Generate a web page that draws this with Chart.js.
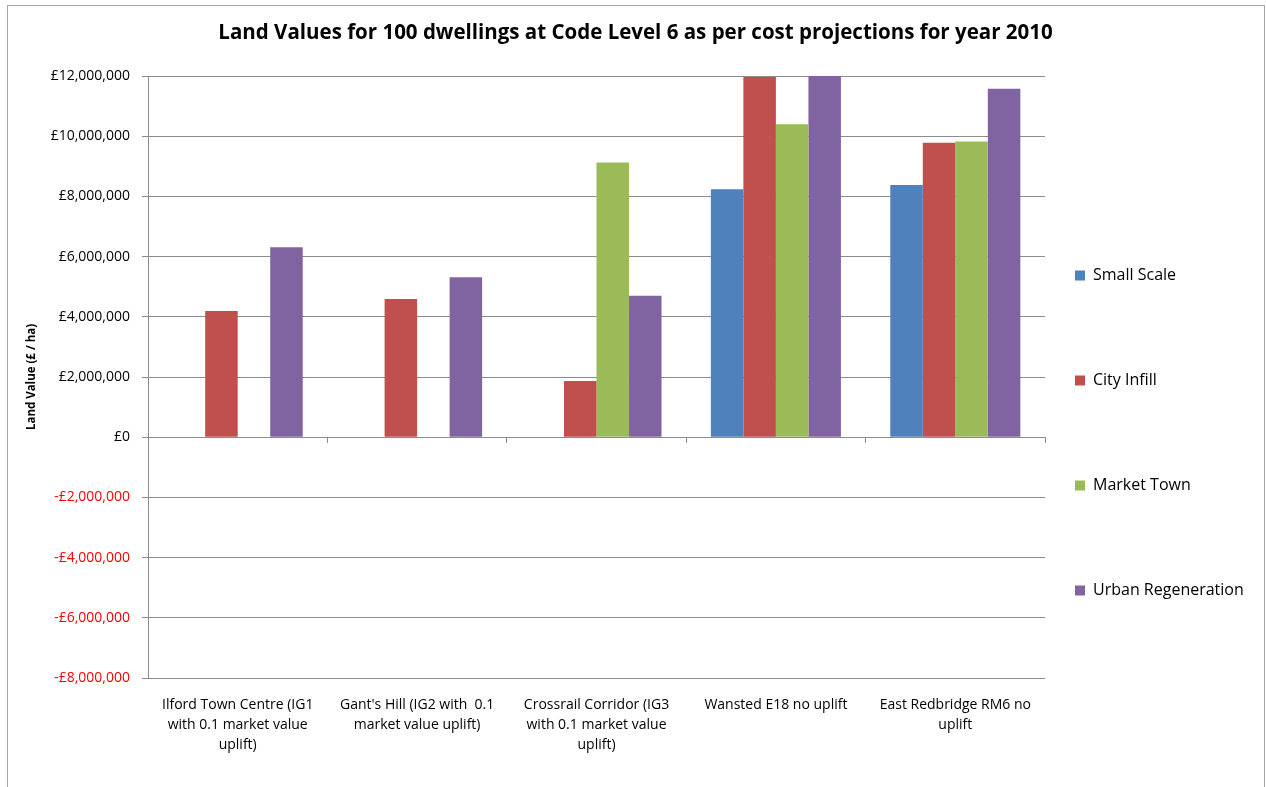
<!DOCTYPE html>
<html>
<head>
<meta charset="utf-8">
<title>Land Values for 100 dwellings at Code Level 6</title>
<script src="https://cdn.jsdelivr.net/npm/chart.js@4/dist/chart.umd.min.js"></script>
<style>
  html, body { margin: 0; padding: 0; background: #ffffff; }
  #wrap { position: absolute; left: 0; top: 0; width: 1266px; height: 787px; }
</style>
</head>
<body>
<div id="wrap"><canvas id="chart" width="1266" height="787"></canvas></div>
<script>
// Sites (category axis), each label split into its wrapped lines
const sites = [
  ['Ilford Town Centre (IG1', 'with 0.1 market value', 'uplift)'],
  ["Gant's Hill (IG2 with  0.1", 'market value uplift)'],
  ['Crossrail Corridor (IG3', 'with 0.1 market value', 'uplift)'],
  ['Wansted E18 no uplift'],
  ['East Redbridge RM6 no', 'uplift']
];

// Land value (£ / ha) per development typology
const smallScale        = [null, null, null, 8240000, 8380000];
const cityInfill        = [4190000, 4590000, 1870000, 11970000, 9780000];
const marketTown        = [null, null, 9130000, 10400000, 9820000];
const urbanRegeneration = [6310000, 5310000, 4700000, 12000000, 11580000];

// Value axis range
const yMin = -8000000;
const yMax = 12000000;
const yStep = 2000000;

const seriesNames  = ['Small Scale', 'City Infill', 'Market Town', 'Urban Regeneration'];
const seriesColors = ['#4F81BD', '#C0504D', '#9BBB59', '#8064A2'];
const seriesValues = [smallScale, cityInfill, marketTown, urbanRegeneration];

const FONT = "'Open Sans', 'Liberation Sans', sans-serif";
const GRID = '#8c8c8c';

function poundLabel(v) {
  const n = Math.abs(v).toLocaleString('en-GB');
  return (v < 0 ? '-£' : '£') + n;
}

// Outer frame of the chart object
const framePlugin = {
  id: 'frame',
  beforeDraw(chart) {
    const ctx = chart.ctx;
    ctx.save();
    ctx.fillStyle = '#ffffff';
    ctx.fillRect(0, 0, chart.width, chart.height);
    ctx.strokeStyle = '#a6a6a6';
    ctx.lineWidth = 1;
    ctx.strokeRect(7.5, 5.5, 1257, 800);
    ctx.restore();
  }
};

new Chart(document.getElementById('chart'), {
  type: 'bar',
  data: {
    labels: sites,
    datasets: seriesNames.map((name, i) => ({
      label: name,
      data: seriesValues[i],
      backgroundColor: seriesColors[i],
      borderWidth: 0,
      xAxisID: 'x',
      yAxisID: 'y'
    }))
  },
  options: {
    responsive: false,
    animation: false,
    devicePixelRatio: 1,
    categoryPercentage: 0.725,
    barPercentage: 1.0,
    layout: { padding: { left: 26, right: 21, top: 0, bottom: 0 } },
    plugins: {
      tooltip: { enabled: false },
      title: {
        display: true,
        text: 'Land Values for 100 dwellings at Code Level 6 as per cost projections for year 2010',
        color: '#000000',
        font: { family: FONT, size: 20.5, weight: 'bold', lineHeight: 1.2 },
        padding: { top: 21, bottom: 30.4 }
      },
      legend: {
        position: 'right',
        align: 'center',
        maxWidth: 200,
        title: { display: true, text: ' ', font: { size: 10, lineHeight: 1.2 }, padding: { top: 63, bottom: 63 } },
        labels: {
          boxWidth: 10,
          boxHeight: 10,
          padding: 30,
          color: '#000000',
          font: { family: FONT, size: 16, lineHeight: 4.6875 },
          generateLabels(chart) {
            return Chart.defaults.plugins.legend.labels.generateLabels(chart)
              .map(item => Object.assign(item, { text: [item.text], lineWidth: 0 }));
          }
        }
      }
    },
    scales: {
      // category axis drawn along the zero line, carrying only its tick marks
      x: {
        type: 'category',
        position: { y: 0 },
        offset: true,
        grid: { display: true, offset: true, drawOnChartArea: false, drawTicks: true, tickLength: 5, color: GRID },
        border: { display: true, color: GRID },
        ticks: { display: false },
        afterFit(scale) { scale.height = 0; }
      },
      // the same categories, labelled beneath the plot area
      xLabels: {
        type: 'category',
        position: 'bottom',
        labels: sites,
        offset: true,
        grid: { display: false, drawTicks: false },
        border: { display: false },
        ticks: {
          color: '#000000',
          font: { family: FONT, size: 14, lineHeight: 1.43 },
          padding: 17,
          maxRotation: 0,
          autoSkip: false
        },
        afterFit(scale) { scale.height = 109; }
      },
      y: {
        min: yMin,
        max: yMax,
        grid: { color: GRID, tickLength: 6, drawTicks: true },
        border: { display: true, color: GRID },
        ticks: {
          stepSize: yStep,
          padding: 12,
          font: { family: FONT, size: 14 },
          color: ctx => (ctx.tick && ctx.tick.value < 0) ? '#FF0000' : '#000000',
          callback: v => poundLabel(v)
        },
        title: {
          display: true,
          text: 'Land Value (£ / ha)',
          color: '#000000',
          font: { family: FONT, size: 11.5, weight: 'bold', lineHeight: 1.2 },
          padding: { top: -1, bottom: 0 }
        },
        afterFit(scale) { scale.width = 122; }
      }
    }
  },
  plugins: [framePlugin]
});
</script>
</body>
</html>
